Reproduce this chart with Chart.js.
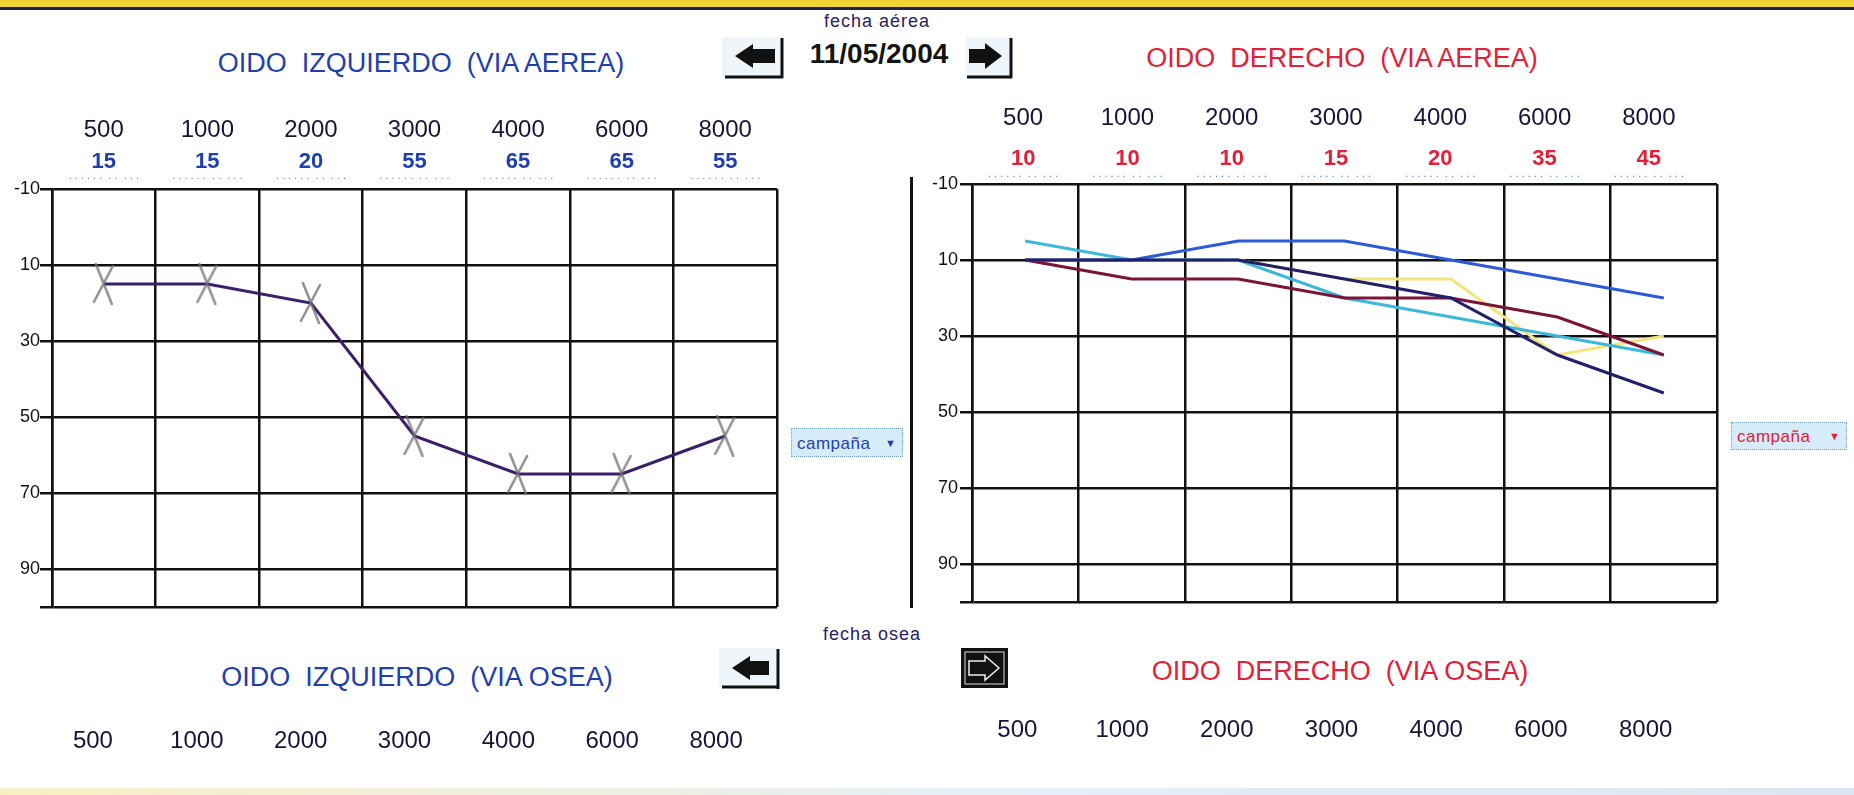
<!DOCTYPE html>
<html lang="es">
<head>
<meta charset="utf-8">
<title>Audiometría</title>
<script src="https://cdn.jsdelivr.net/npm/chart.js@4.4.1/dist/chart.umd.min.js"></script>
<style>
  html, body { margin: 0; padding: 0; }
  body { width: 1854px; height: 795px; position: relative; overflow: hidden; background: #fff;
         font-family: "Liberation Sans", Arial, sans-serif; }
  canvas { position: absolute; }
  .band-top { position: absolute; left: 0; top: 0; width: 1854px; height: 7px; background: #f1d433; border-bottom: 3px solid #1b2350; }
  .band-bot { position: absolute; left: 0; top: 788px; width: 1854px; height: 7px;
              background: linear-gradient(to right, #f7efc4, #e6eef7 55%, #dde6f2); }
  .ttl { position: absolute; font-size: 27px; line-height: 1; white-space: pre; transform: translate(-50%, -50%); }
  .blue { color: #1f3fae; }
  .red { color: #e3203a; }
  .small { position: absolute; font-size: 18px; line-height: 1; letter-spacing: 1px; color: #2a2060; transform: translate(-50%, -50%); white-space: pre; }
  .date { position: absolute; left: 879px; top: 54px; font-size: 28px; font-weight: bold; line-height: 1; color: #141414; transform: translate(-50%, -50%); }
  .btn { position: absolute; }
  .sep { position: absolute; left: 910px; top: 177px; width: 3px; height: 431px; background: #111; }
  .camp { position: absolute; background: #d6ecf8; border: 1px dotted #6f9fc4; font-size: 17px; line-height: 1; box-sizing: border-box; }
  .camp span { position: absolute; top: 50%; transform: translateY(-50%); }
</style>
</head>
<body>
<div class="band-top"></div>
<div class="band-bot"></div>

<div class="small" style="left:877px;top:21px">fecha aérea</div>
<div class="date">11/05/2004</div>
<div class="small" style="left:872px;top:634px">fecha osea</div>

<div class="ttl blue" style="left:421px;top:63px">OIDO  IZQUIERDO  (VIA AEREA)</div>
<div class="ttl red" style="left:1342px;top:58px">OIDO  DERECHO  (VIA AEREA)</div>
<div class="ttl blue" style="left:417px;top:677px">OIDO  IZQUIERDO  (VIA OSEA)</div>
<div class="ttl red" style="left:1340px;top:671px">OIDO  DERECHO  (VIA OSEA)</div>

<!-- botones de fecha -->
<svg class="btn" style="left:722px;top:37px" width="64" height="43">
  <rect x="0" y="0" width="60" height="40" fill="#eef6fb"/>
  <polygon points="13,19 31,7 31,12 53,12 53,26 31,26 31,31" fill="#111"/>
  <line x1="60" y1="1" x2="60" y2="41" stroke="#111" stroke-width="3"/>
  <line x1="3" y1="40" x2="61" y2="40" stroke="#111" stroke-width="3"/>
</svg>
<svg class="btn" style="left:966px;top:37px" width="50" height="43">
  <rect x="0" y="0" width="45" height="40" fill="#eef6fb"/>
  <polygon points="36,19 19,6 19,12 3,12 3,26 19,26 19,32" fill="#111"/>
  <line x1="45" y1="1" x2="45" y2="41" stroke="#111" stroke-width="3"/>
  <line x1="1" y1="40" x2="46" y2="40" stroke="#111" stroke-width="3"/>
</svg>
<svg class="btn" style="left:719px;top:648px" width="64" height="43">
  <rect x="0" y="0" width="59" height="39" fill="#eef6fb"/>
  <polygon points="13,20 31,8 31,13 50,13 50,27 31,27 31,32" fill="#111"/>
  <line x1="59" y1="1" x2="59" y2="41" stroke="#111" stroke-width="3"/>
  <line x1="3" y1="39" x2="60" y2="39" stroke="#111" stroke-width="3"/>
</svg>
<svg class="btn" style="left:961px;top:648px" width="48" height="41">
  <rect x="0" y="0" width="47" height="40" fill="#111"/>
  <rect x="4" y="4" width="39" height="32" fill="none" stroke="#ddd" stroke-width="1"/>
  <polygon points="38,20 24,8 24,13 8,13 8,27 24,27 24,32" fill="none" stroke="#eee" stroke-width="1.5"/>
</svg>

<div class="camp" style="left:791px;top:428px;width:112px;height:29px">
  <span class="blue" style="left:5px;letter-spacing:.5px">campaña</span><span class="blue" style="left:93px;font-size:11px">&#9660;</span>
</div>
<div class="camp" style="left:1731px;top:422px;width:116px;height:28px">
  <span class="red" style="left:5px;letter-spacing:.5px">campaña</span><span class="red" style="left:97px;font-size:11px">&#9660;</span>
</div>

<div class="sep"></div>

<canvas id="leftAir" width="800" height="530" style="left:0;top:90px"></canvas>
<canvas id="leftHead" width="800" height="100" style="left:0;top:90px"></canvas>
<canvas id="rightAir" width="860" height="530" style="left:880px;top:85px"></canvas>
<canvas id="rightHead" width="860" height="100" style="left:880px;top:85px"></canvas>
<canvas id="leftBone" width="800" height="95" style="left:0;top:700px"></canvas>
<canvas id="rightBone" width="860" height="95" style="left:880px;top:700px"></canvas>

<script>
/* ─── Datos ───────────────────────────────────────────────── */
const FREQS   = ['500', '1000', '2000', '3000', '4000', '6000', '8000'];
const Y_TICKS = [-10, 10, 30, 50, 70, 90, 100];

// oído izquierdo, vía aérea (campaña actual)
const LEFT_AIR = [15, 15, 20, 55, 65, 65, 55];

// oído derecho, vía aérea: campaña actual + campañas anteriores
const RIGHT_AIR    = [10, 10, 10, 15, 20, 35, 45];
const RIGHT_PREV_A = [10, 10, 5, 5, 10, 15, 20];
const RIGHT_PREV_B = [10, 15, 15, 20, 20, 25, 35];
const RIGHT_PREV_C = [5, 10, 10, 20, 25, 30, 35];
const RIGHT_PREV_D = [10, 10, 10, 15, 15, 35, 30];

// texto cortado bajo cada valor
const NOTE_LABELS = FREQS.map(() => '. . . . . .  . .  . . .');

const FONT = '"Liberation Sans", Arial, sans-serif';
Chart.defaults.font.family = FONT;
Chart.defaults.animation = false;

const NO_PLUGINS = { legend: { display: false }, tooltip: { enabled: false } };

/* ─── Marcador "X" a mano ─────────────────────────────────── */
function crossMarker() {
  const c = document.createElement('canvas');
  c.width = 30; c.height = 46;
  const g = c.getContext('2d');
  g.strokeStyle = 'rgba(115,115,115,.8)';
  g.lineWidth = 2.5;
  g.lineCap = 'round';
  g.beginPath();
  g.moveTo(7, 3);  g.lineTo(23, 43);
  g.moveTo(24, 5); g.lineTo(5, 41);
  g.stroke();
  return c;
}

/* ─── Audiograma vía aérea (rejilla + curvas) ─────────────── */
function airChart(id, o) {
  new Chart(document.getElementById(id), {
    type: 'line',
    data: { datasets: o.datasets },
    options: {
      responsive: false,
      layout: { padding: o.padding },
      plugins: NO_PLUGINS,
      elements: { line: { tension: 0, borderWidth: 3 } },
      scales: {
        x: {
          type: 'category', position: 'top', labels: FREQS, offset: true,
          grid: { offset: true, color: '#111', lineWidth: 2.5, drawTicks: false },
          border: { display: false },
          ticks: { display: false },
          afterFit: s => { s.height = o.top; },
        },
        y: {
          type: 'linear', reverse: true, min: -10, max: 100,
          afterBuildTicks: s => { s.ticks = Y_TICKS.map(v => ({ value: v })); },
          grid: { color: '#111', lineWidth: 2.5, tickLength: 12 },
          border: { display: true, color: '#111', width: 2.5 },
          ticks: { color: '#111', font: { size: 18 }, padding: o.yPad, callback: v => v === 100 ? '' : v },
          afterFit: s => { s.width = o.yWidth; },
        },
      },
    },
  });
}

/* ─── Cabecera: frecuencias + valores de la campaña ───────── */
function topAxis(labels, weight, color, font, h, pad) {
  return {
    type: 'category', position: 'top', labels, weight, offset: true,
    grid: { display: false, drawTicks: false }, border: { display: false },
    ticks: { color, font, padding: pad, autoSkip: false, maxRotation: 0 },
    afterFit: s => { s.height = h; },
  };
}

function headChart(id, o) {
  new Chart(document.getElementById(id), {
    type: 'line',
    data: { datasets: [{ data: [], xAxisID: 'x' }] },
    options: {
      responsive: false,
      layout: { padding: o.padding },
      plugins: NO_PLUGINS,
      scales: {
        x:  topAxis(FREQS, 3, '#15153a', { size: 24 }, o.h[0], 0),
        xv: topAxis(o.values.map(String), 2, o.valueColor, { size: 22, weight: 'bold' }, o.h[1], 0),
        xn: topAxis(NOTE_LABELS, 1, o.noteColor, { size: 11 }, o.h[2], o.notePad),
        y:  { display: false, min: -10, max: 100 },
      },
    },
  });
}

airChart('leftAir', {
  top: 99, yWidth: 52, yPad: 0,
  padding: { left: 0, top: 0, right: 23, bottom: 11 },
  datasets: [{
    data: LEFT_AIR, borderColor: '#3d1e6a',
    pointStyle: crossMarker(), pointRadius: 12,
  }],
});
headChart('leftHead', {
  values: LEFT_AIR, valueColor: '#1f3fae', noteColor: '#8a8aa0',
  h: [55, 30, 14], notePad: 6,
  padding: { left: 52, top: 0, right: 23, bottom: 0 },
});

airChart('rightAir', {
  top: 99, yWidth: 92, yPad: 2,
  padding: { left: 0, top: 0, right: 23, bottom: 13 },
  datasets: [
    { data: RIGHT_AIR,    borderColor: '#22206a', pointRadius: 0 },
    { data: RIGHT_PREV_A, borderColor: '#2b5bd6', pointRadius: 0 },
    { data: RIGHT_PREV_B, borderColor: '#7c1439', pointRadius: 0 },
    { data: RIGHT_PREV_C, borderColor: '#3bb8da', pointRadius: 0 },
    { data: RIGHT_PREV_D, borderColor: '#f4e47c', pointRadius: 0 },
  ],
});
headChart('rightHead', {
  values: RIGHT_AIR, valueColor: '#e3203a', noteColor: '#5a7cb0',
  h: [48, 39, 12], notePad: 3,
  padding: { left: 91, top: 0, right: 39, bottom: 0 },
});

/* ─── Vía ósea: solo se ve el eje de frecuencias ──────────── */
function boneChart(id, h, padding) {
  new Chart(document.getElementById(id), {
    type: 'line',
    data: { datasets: [{ data: [] }] },
    options: {
      responsive: false,
      layout: { padding },
      plugins: NO_PLUGINS,
      scales: {
        x: topAxis(FREQS, 1, '#15153a', { size: 24 }, h, 0),
        y: { display: false, min: -10, max: 100 },
      },
    },
  });
}

boneChart('leftBone', 56, { left: 41, top: 0, right: 32, bottom: 0 });
boneChart('rightBone', 45, { left: 85, top: 0, right: 42, bottom: 0 });
</script>
</body>
</html>
